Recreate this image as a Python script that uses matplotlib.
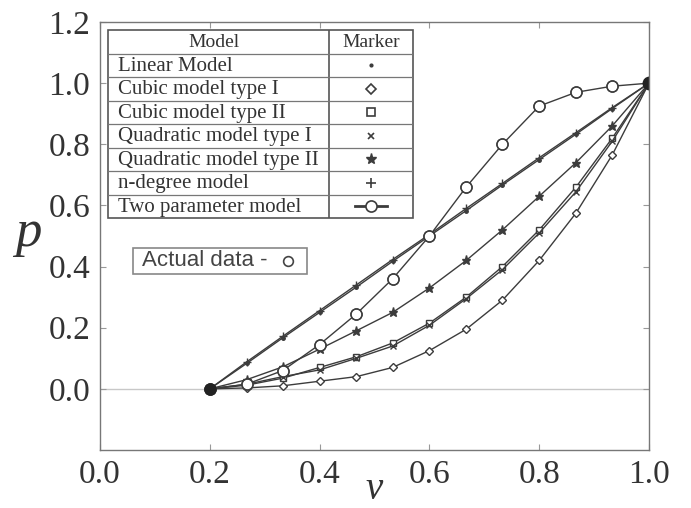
import matplotlib
matplotlib.use('Agg')
import matplotlib.pyplot as plt
from matplotlib.patches import Rectangle

# Data
v = [0.2, 0.267, 0.333, 0.4, 0.467, 0.533, 0.6, 0.667, 0.733, 0.8, 0.867, 0.933, 1.0]
p_linear = [0.0, 0.083, 0.167, 0.25, 0.333, 0.417, 0.5, 0.583, 0.667, 0.75, 0.833, 0.917, 1.0]
p_ndegree = [0.0, 0.088, 0.172, 0.256, 0.34, 0.423, 0.505, 0.59, 0.672, 0.756, 0.838, 0.92, 1.0]
p_cubic1 = [0.0, 0.003, 0.01, 0.025, 0.04, 0.07, 0.125, 0.195, 0.29, 0.42, 0.575, 0.765, 1.0]
p_cubic2 = [0.0, 0.012, 0.035, 0.07, 0.105, 0.15, 0.215, 0.30, 0.40, 0.52, 0.66, 0.82, 1.0]
p_quad1 = [0.0, 0.015, 0.04, 0.062, 0.10, 0.14, 0.208, 0.295, 0.39, 0.51, 0.645, 0.81, 1.0]
p_quad2 = [0.0, 0.03, 0.072, 0.13, 0.19, 0.25, 0.33, 0.42, 0.52, 0.63, 0.74, 0.86, 1.0]
p_twoparam = [0.0, 0.015, 0.06, 0.145, 0.245, 0.36, 0.5, 0.66, 0.8, 0.925, 0.97, 0.99, 1.0]
p_actual = [0.0, 0.015, 0.06, 0.145, 0.245, 0.36, 0.5, 0.66, 0.8, 0.925, 0.97, 0.99, 1.0]

model_names = ['Linear Model', 'Cubic model type I', 'Cubic model type II',
               'Quadratic model type I', 'Quadratic model type II',
               'n-degree model', 'Two parameter model']
xticks = [0.0, 0.2, 0.4, 0.6, 0.8, 1.0]
yticks = [0.0, 0.2, 0.4, 0.6, 0.8, 1.0, 1.2]

plt.rcParams['font.family'] = ['Liberation Serif', 'DejaVu Serif']
lc = '#3c3c3c'

fig = plt.figure(figsize=(6.91, 5.08), dpi=100)
ax = fig.add_axes([100/691, 1 - 450/508, 549/691, 428/508])

ax.axhline(0, color='#c8c8c8', lw=1.0, zorder=0)

styles = [
    (p_linear, dict(marker='.', ms=5, mfc=lc)),
    (p_ndegree, dict(marker='+', ms=6, mew=1.0)),
    (p_cubic1, dict(marker='D', ms=4.5, mfc='white', mew=1.0)),
    (p_cubic2, dict(marker='s', ms=5, mfc='white', mew=1.0)),
    (p_quad1, dict(marker='x', ms=5, mew=1.0)),
    (p_quad2, dict(marker='*', ms=6.5, mfc=lc)),
    (p_twoparam, dict(marker='o', ms=8, mfc='white', mew=1.0)),
]
for vals, st in styles:
    ax.plot(v, vals, color=lc, lw=1.0, mec=lc, **st)
ax.plot(v, p_actual, ls='none', marker='o', ms=8, mfc='none', mec=lc, mew=1.0)
ax.plot([1.0], [1.0], 'o', ms=9, color='#222222')
ax.plot([0.2], [0.0], 'o', ms=8, color='#222222')

ax.set_xlim(0, 1.0)
ax.set_ylim(-0.2, 1.2)
ax.set_xticks(xticks)
ax.set_yticks(yticks)
ax.set_xticklabels(['%.1f' % t for t in xticks])
ax.set_yticklabels(['%.1f' % t for t in yticks])
ax.tick_params(direction='in', top=True, right=True, length=4, color='#999999',
               labelsize=24, labelcolor='#333333', pad=7)
for s in ax.spines.values():
    s.set_color('#777777')
    s.set_linewidth(1.0)

ax.set_ylabel('p', fontsize=38, style='italic', rotation=0, color='#333333')
ax.yaxis.set_label_coords(-0.13, 0.45)
ax.set_xlabel('v', fontsize=28, style='italic', color='#333333', labelpad=-14)

# Actual data box
fig.text(142/691, 1 - 261/508, 'Actual data -', family='Liberation Sans', fontsize=16,
         color='#444444', va='center', ha='left')
bx = fig.add_axes([133/691, 1 - 274/508, 174/691, 26/508])
bx.set_xlim(0, 174)
bx.set_ylim(26, 0)
bx.axis('off')
bx.add_patch(Rectangle((0, 0), 174, 26, fill=False, ec='#888888', lw=1.2, clip_on=False))
bx.plot([155], [13], 'o', ms=7, mfc='white', mec='#444444', mew=1.2)

# Legend table
tw, th = 305, 188
tab = fig.add_axes([108/691, 1 - 218/508, tw/691, th/508])
tab.set_xlim(0, tw)
tab.set_ylim(th, 0)
tab.axis('off')
tab.add_patch(Rectangle((0, 0), tw, th, fill=False, ec='#555555', lw=1.2, clip_on=False))
col = 221
rh = th / 8.0
tab.plot([col, col], [0, th], color='#555555', lw=1.2)
for i in range(1, 8):
    tab.plot([0, tw], [i*rh, i*rh], color='#777777', lw=0.9)
tab.text(col/2 - 5, rh/2 + 1, 'Model', ha='center', va='center', fontsize=14, color='#333333')
tab.text((col + tw)/2, rh/2 + 1, 'Marker', ha='center', va='center', fontsize=14, color='#333333')
mx = (col + tw)/2
legend_marks = [
    dict(marker='.', ms=4, mfc=lc),
    dict(marker='D', ms=5, mfc='white', mew=1.2),
    dict(marker='s', ms=5.5, mfc='white', mew=1.2),
    dict(marker='x', ms=5, mew=1.2),
    dict(marker='*', ms=8, mfc=lc),
    dict(marker='+', ms=7, mew=1.2),
]
for i, name in enumerate(model_names):
    yc = (i + 1.5)*rh
    tab.text(10, yc + 1, name, ha='left', va='center', fontsize=15, color='#333333')
    if i < 6:
        tab.plot([mx], [yc], ls='none', color=lc, mec=lc, **legend_marks[i])
    else:
        tab.plot([mx - 16, mx + 16], [yc, yc], color=lc, lw=2.0)
        tab.plot([mx], [yc], 'o', ms=8, mfc='white', mec=lc, mew=1.2)

fig.savefig('out.png', dpi=100)
